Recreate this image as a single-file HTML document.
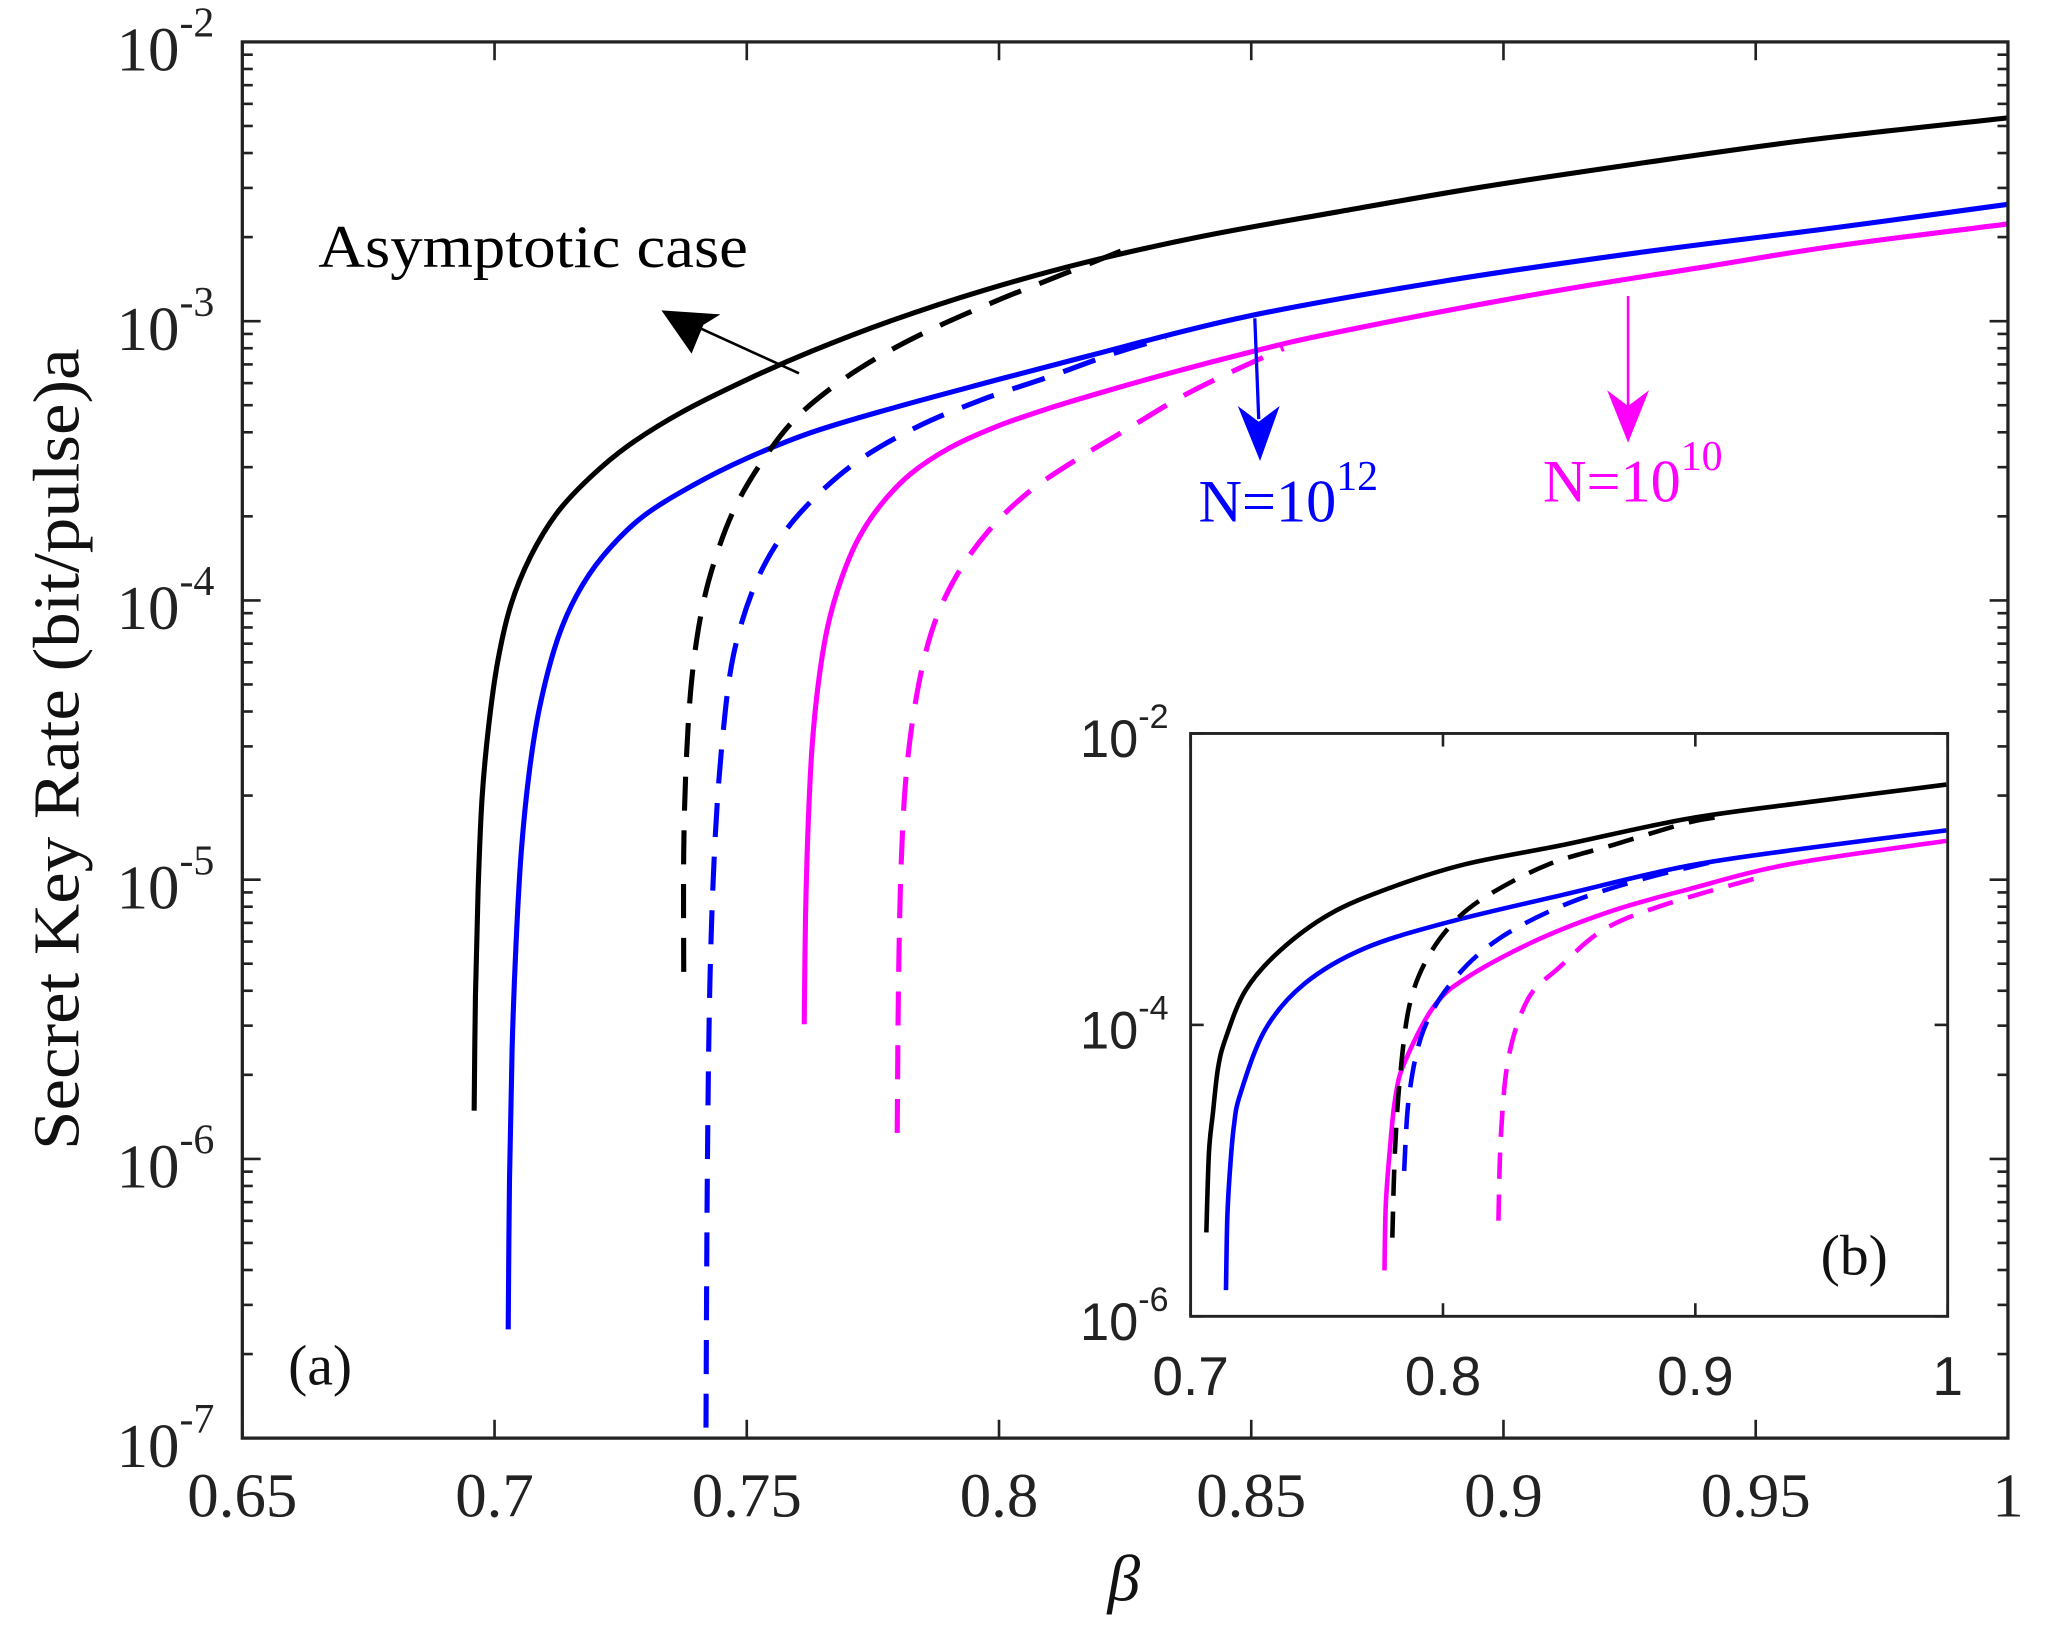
<!DOCTYPE html>
<html><head><meta charset="utf-8"><style>
html,body{margin:0;padding:0;background:#fff;}
svg{display:block;}
</style></head><body>
<svg id="s" width="2053" height="1630" viewBox="0 0 1567.4 1244.5" preserveAspectRatio="none" xmlns="http://www.w3.org/2000/svg">
<rect width="1570" height="1250" fill="#fff"/>
<g id="g"></g>
<g font-family="Liberation Serif, serif" fill="#111">
<text x="243" y="204" font-size="46" fill="#000" textLength="328" lengthAdjust="spacingAndGlyphs">Asymptotic case</text>
<text x="220" y="1057" font-size="44">(a)</text>
<text x="1390" y="973" font-size="44">(b)</text>
<text x="915" y="398" font-size="46" fill="#0000ff">N=10<tspan dy="-24" font-size="32">12</tspan></text>
<text x="1178" y="383" font-size="46" fill="#ff00ff">N=10<tspan dy="-24" font-size="32">10</tspan></text>
<text x="858" y="1222" font-size="50" font-style="italic" text-anchor="middle">β</text>
<text transform="translate(60,572) rotate(-90)" font-size="50" text-anchor="middle" textLength="612" lengthAdjust="spacingAndGlyphs">Secret Key Rate (bit/pulse)a</text>
</g>
</svg>
<script>
var NS="http://www.w3.org/2000/svg",g=document.getElementById('g');
function el(t,a,txt){var e=document.createElementNS(NS,t);for(var k in a)e.setAttribute(k,a[k]);if(txt!==undefined)e.textContent=txt;g.appendChild(e);return e;}
function path(pts){var d="M"+pts[0][0]+","+pts[0][1];for(var i=0;i<pts.length-1;i++){var p0=pts[Math.max(i-1,0)],p1=pts[i],p2=pts[i+1],p3=pts[Math.min(i+2,pts.length-1)];
var c1=[p1[0]+(p2[0]-p0[0])/6,p1[1]+(p2[1]-p0[1])/6],c2=[p2[0]-(p3[0]-p1[0])/6,p2[1]-(p3[1]-p1[1])/6];d+=" C"+c1+" "+c2+" "+p2;}return d;}
function curve(pts,col,dash,w){var a={d:path(pts),fill:"none",stroke:col,"stroke-width":w||3.9};if(dash)a["stroke-dasharray"]=dash;el('path',a);}
var L=185,R=1533,T=32,B=1098;
var tc="#222";
for(var i=0;i<=7;i++){var x=L+i*(R-L)/7;el('line',{x1:x,y1:B,x2:x,y2:B-14,stroke:tc,"stroke-width":2});el('line',{x1:x,y1:T,x2:x,y2:T+14,stroke:tc,"stroke-width":2});
el('text',{x:x,y:B+60,"font-size":48,"text-anchor":"middle","font-family":"Liberation Serif, serif",fill:"#222"},["0.65","0.7","0.75","0.8","0.85","0.9","0.95","1"][i]);}
var dec=(B-T)/5;
for(var d=0;d<=5;d++){var y=T+d*dec;el('line',{x1:L,y1:y,x2:L+14,y2:y,stroke:tc,"stroke-width":2});el('line',{x1:R,y1:y,x2:R-14,y2:y,stroke:tc,"stroke-width":2});
el('text',{x:L-48,y:y+22,"font-size":48,"text-anchor":"end","font-family":"Liberation Serif, serif",fill:"#222"},"10");
el('text',{x:L-48,y:y-4,"font-size":32,"font-family":"Liberation Serif, serif",fill:"#222"},"-"+(2+d));
if(d<5)for(var m=2;m<=9;m++){var yy=T+(d+1)*dec-Math.log10(m)*dec;el('line',{x1:L,y1:yy,x2:L+8,y2:yy,stroke:tc,"stroke-width":2});el('line',{x1:R,y1:yy,x2:R-8,y2:yy,stroke:tc,"stroke-width":2});}}
curve([[362,848],[363,760],[365,680],[368,610],[373,555],[380,505],[390,462],[405,425],[425,392],[450,365],[480,340],[520,315],[570,290],[620,268],[680,245],[750,222],[830,200],[920,180],[1020,162],[1130,143],[1250,125],[1380,107],[1533,90]],"#000");
curve([[388,1015],[389,900],[391,800],[394,720],[398,650],[404,590],[412,540],[425,490],[440,455],[460,425],[490,395],[530,370],[570,350],[620,330],[680,312],[750,293],[830,272],[950,242],[1100,215],[1250,193],[1400,174],[1533,156]],"#0000ff");
curve([[614,782],[615,700],[617,630],[620,570],[625,520],[632,478],[642,443],[655,412],[672,386],[695,362],[725,342],[760,326],[800,312],[850,297],[900,283],[950,270],[1000,258],[1100,238],[1200,220],[1300,204],[1400,188],[1533,171]],"#ff00ff");
curve([[522,742],[522,650],[524,580],[528,520],[535,470],[545,430],[560,390],[580,355],[605,322],[635,296],[670,273],[710,252],[760,230],[810,210],[860,190]],"#000","26,15");
curve([[539,1090],[540,900],[542,750],[546,640],[552,560],[560,500],[575,450],[595,412],[620,382],[655,352],[700,326],[750,305],[800,288],[850,270],[890,258]],"#0000ff","26,15");
curve([[685,865],[686,750],[688,660],[692,590],[700,530],[712,480],[730,440],[755,405],[785,376],[820,352],[860,328],[900,304],[940,284],[980,266]],"#ff00ff","26,15");
el('line',{x1:610,y1:285,x2:520,y2:244,stroke:"#000","stroke-width":2});
el('polygon',{points:"505,237 550,240 537,248 528,270",fill:"#000"});
el('line',{x1:958,y1:243,x2:961,y2:320,stroke:"#0000ff","stroke-width":2.5});
el('polygon',{points:"962,352 945,310 961,322 977,310",fill:"#0000ff"});
el('line',{x1:1243,y1:226,x2:1243,y2:310,stroke:"#ff00ff","stroke-width":2});
el('polygon',{points:"1243,338 1227,298 1243,310 1259,298",fill:"#ff00ff"});
el('rect',{x:L,y:T,width:R-L,height:B-T,fill:"none",stroke:tc,"stroke-width":2.5});
var iL=909,iR=1487,iT=560,iB=1005;
el('rect',{x:iL,y:iT,width:iR-iL,height:iB-iT,fill:"#fff",stroke:"none"});
for(var i=0;i<=3;i++){var x=iL+i*(iR-iL)/3;el('line',{x1:x,y1:iB,x2:x,y2:iB-10,stroke:tc,"stroke-width":2});el('line',{x1:x,y1:iT,x2:x,y2:iT+10,stroke:tc,"stroke-width":2});
el('text',{x:x,y:iB+60,"font-size":42,"text-anchor":"middle","font-family":"Liberation Sans, sans-serif",fill:"#222"},["0.7","0.8","0.9","1"][i]);}
for(var d=0;d<=2;d++){var y=iT+d*(iB-iT)/2;el('line',{x1:iL,y1:y,x2:iL+10,y2:y,stroke:tc,"stroke-width":2});el('line',{x1:iR,y1:y,x2:iR-10,y2:y,stroke:tc,"stroke-width":2});
el('text',{x:iL-40,y:y+18,"font-size":40,"text-anchor":"end","font-family":"Liberation Sans, sans-serif",fill:"#222"},"10");
el('text',{x:iL-40,y:y-4,"font-size":26,"font-family":"Liberation Sans, sans-serif",fill:"#222"},"-"+(2+2*d));}
curve([[921,941],[923,880],[926,850],[930,815],[936,792],[951,756],[977,726],[1015,698],[1061,678],[1118,660],[1194,645],[1289,625],[1384,612],[1486,599]],"#000",null,3.5);
curve([[936,985],[937,930],[939,894],[942,860],[947,835],[966,786],[996,751],[1042,724],[1106,704],[1194,683],[1289,661],[1384,647],[1486,634]],"#0000ff",null,3.5);
curve([[1057,970],[1058,920],[1061,879],[1065,840],[1072,812],[1095,768],[1122,745],[1175,717],[1232,695],[1289,679],[1365,660],[1486,642]],"#ff00ff",null,3.5);
curve([[1063,945],[1065,879],[1069,821],[1076,768],[1089,733],[1110,704],[1137,683],[1182,660],[1232,645],[1289,628],[1319,623]],"#000","20,12",3.5);
curve([[1072,894],[1076,835],[1087,786],[1110,748],[1144,717],[1194,691],[1251,672],[1312,657]],"#0000ff","20,12",3.5);
curve([[1144,932],[1146,865],[1152,806],[1167,762],[1190,739],[1224,710],[1270,691],[1346,669]],"#ff00ff","20,12",3.5);
el('rect',{x:iL,y:iT,width:iR-iL,height:iB-iT,fill:"none",stroke:tc,"stroke-width":2.2});
</script>
</body></html>
